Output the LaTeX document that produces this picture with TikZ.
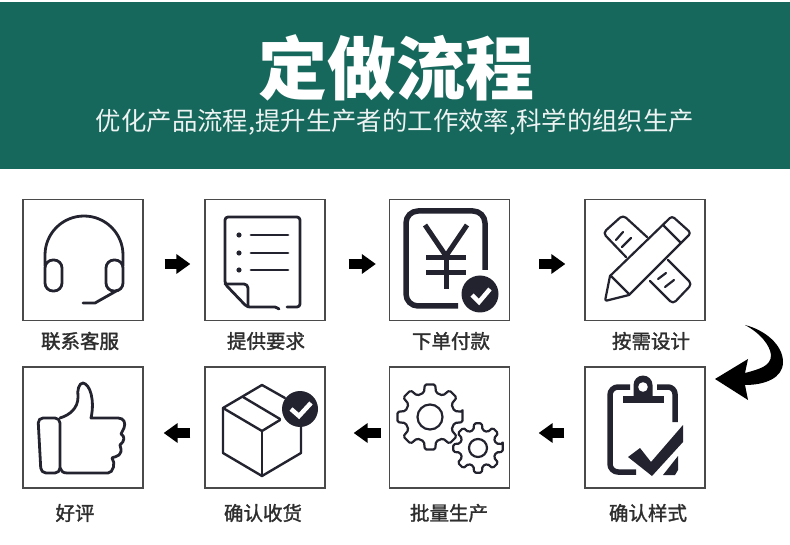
\documentclass[tikz,border=0pt]{standalone}
\usepackage{fontspec}
\setmainfont{Noto Sans CJK SC}
\newfontfamily\labelfont[FakeBold=1.6]{Noto Sans CJK SC}
\usetikzlibrary{arrows.meta,calc}
\definecolor{band}{HTML}{17685C}
\definecolor{ink}{HTML}{23232F}
\definecolor{framec}{HTML}{4A4A4A}
\definecolor{labelc}{HTML}{2E2E2E}
\tikzset{
  framebox/.style={draw=framec,line width=1.3pt,minimum width=120pt,minimum height=121pt,inner sep=0pt},
  steplabel/.style={text=labelc,font=\fontsize{19.5pt}{21pt}\selectfont\labelfont,inner sep=0pt},
  blockarrow/.style={line width=10pt,black,-{Triangle[length=14pt,width=19pt]}},
  icon/.style={draw=ink,line width=2.8pt,line cap=round,line join=round},
  iconthin/.style={draw=ink,line width=2.2pt,line cap=round,line join=round},
  iconthick/.style={draw=ink,line width=5pt,line join=round},
  okdisc/.style={fill=ink,draw=none},
  oktick/.style={draw=white,line width=4.5pt,line join=miter},
}
\newcommand{\gearicon}[5]{% cx cy outer root hole
  \draw[iconthin,rounded corners=1.6pt,shift={(#1,#2)}]
    (-9:#3) \foreach \i in {0,...,7}{
      -- ({\i*45-9}:#3) -- ({\i*45+9}:#3) -- ({\i*45+14}:#4) -- ({\i*45+31}:#4)
    } -- cycle;
  \draw[iconthin,shift={(#1,#2)}] (0,0) circle (#5);
}
\begin{document}
\begin{tikzpicture}[x=1pt,y=-1pt]
\useasboundingbox (0,0) rectangle (790,545);
\fill[band] (0,2) rectangle (790,169);
\node[text=white,font=\fontsize{69pt}{72pt}\selectfont\bfseries,inner sep=0pt] (title) at (396,68) {定做流程};
\node[text=white!92!band,font=\fontsize{25.4pt}{27pt}\selectfont,inner sep=0pt] (subtitle) at (395,122) {优化产品流程,提升生产者的工作效率,科学的组织生产};

% frames
\node[framebox] (b1) at (83,260) {};
\node[framebox] (b2) at (265,260) {};
\node[framebox] (b3) at (449.5,260) {};
\node[framebox] (b4) at (645,260) {};
\node[framebox] (b5) at (645,427.5) {};
\node[framebox] (b6) at (449.5,427.5) {};
\node[framebox] (b7) at (265,427.5) {};
\node[framebox] (b8) at (83,427.5) {};

% labels
\node[steplabel] (l1) at (80,341) {联系客服};
\node[steplabel] (l2) at (266,341) {提供要求};
\node[steplabel] (l3) at (451,341) {下单付款};
\node[steplabel] (l4) at (651,341) {按需设计};
\node[steplabel] (l5) at (648,513) {确认样式};
\node[steplabel] (l6) at (449,513) {批量生产};
\node[steplabel] (l7) at (263,513) {确认收货};
\node[steplabel] (l8) at (75,513) {好评};

% connectors
\draw[blockarrow] ([shift={(21,4)}]b1.east) -- ([shift={(-14,4)}]b2.west);
\draw[blockarrow] ([shift={(23,4)}]b2.east) -- ([shift={(-13,4)}]b3.west);
\draw[blockarrow] ([shift={(29,4)}]b3.east) -- ([shift={(-19,4)}]b4.west);
\draw[blockarrow] ([shift={(-20,5.5)}]b5.west) -- ([shift={(28.5,5.5)}]b6.east);
\draw[blockarrow] ([shift={(-8,5.5)}]b6.west) -- ([shift={(28,5.5)}]b7.east);
\draw[blockarrow] ([shift={(-14,5.5)}]b7.west) -- ([shift={(20,5.5)}]b8.east);

% curved arrow
\fill[black] (745,325) .. controls (760,333) and (770,345) .. (771,355)
  .. controls (771,366) and (760,369) .. (745,373) -- (748,359) -- (715,379) -- (748,400) -- (745,385)
  .. controls (765,385) and (783,378) .. (783,362)
  .. controls (783,345) and (765,330) .. (745,325) -- cycle;

% headset
\draw[icon] (45,266) -- (45,255) arc[start angle=180,end angle=360,radius=39] -- (123,266);
\draw[icon,rounded corners=8pt] (45,260) rectangle (62,291);
\draw[icon,rounded corners=8pt] (106,260) rectangle (123,291);
\draw[icon] (118,290) -- (95,303) -- (83,303);

% document
\draw[icon,rounded corners=3pt] (279,309) .. controls (276,307) and (274,307) .. (272,307) -- (247,307) -- (225,284) -- (225,217) -- (300,217) -- (300,307) -- (287,307);
\draw[icon,rounded corners=4pt] (225,284) -- (248,284) -- (248,307);
\foreach \ly in {235,253,270}{
  \draw[icon] (251,\ly) -- (288,\ly);
  \fill[ink] (239,\ly) circle (2.6);
}

% yen
\draw[iconthick,line width=5.5pt,rounded corners=12pt] (485,270) -- (485,211) -- (406,211) -- (406,306) -- (458,306);
\draw[draw=ink,line width=5pt] (425,225) -- (446,256) -- (467,225);
\draw[draw=ink,line width=5pt] (446,256) -- (446,289);
\draw[draw=ink,line width=5pt] (426,258) -- (466,258) (426,273) -- (466,273);
\fill[okdisc] (480,294) circle (18.5);
\draw[oktick] (472,295) -- (479,302) -- (490,289);

% ruler and pencil
\draw[iconthin,rounded corners=4pt] (647,237) -- (623,215) -- (603,233) -- (626,257);
\draw[iconthin,rounded corners=4pt] (668,260) -- (692,284) -- (673,304) -- (650,281);
\draw[iconthin] (616,240) -- (623,232) (622,247) -- (631,238);
\draw[iconthin] (658,279) -- (666,273) (665,287) -- (674,280);
\draw[iconthin,rounded corners=3pt] (610,276) -- (672,216) -- (691,233) -- (629,295);
\draw[iconthin,rounded corners=2pt] (629,295) -- (605,301) -- (610,276);
\draw[iconthin] (663,225) -- (681,243) (611,276) -- (629,294);

% clipboard
\draw[iconthick,line width=5.5pt,rounded corners=7pt] (675,422) -- (675,387) -- (657,387);
\draw[iconthick,line width=5.5pt,rounded corners=8pt] (630,387) -- (610,387) -- (610,472) -- (636,472);
\fill[ink] (623,396) rectangle (664,403);
\fill[ink] (633.5,397) -- (633.5,385) arc[start angle=180,end angle=360,radius=9.5] -- (652.5,397) -- cycle;
\fill[white] (643,387) circle (4.8);
\fill[ink] (628,457) -- (640,448) -- (651,462) -- (683,425) -- (683,442) -- (652,476) -- cycle;
\fill[ink] (678,456) -- (678,470) -- (675,475) -- (663,475) -- cycle;

% box with tick
\draw[iconthin,line width=2.4pt] (285,398) -- (262,385) -- (223,408) -- (262,431) -- (280,420);
\draw[iconthin,line width=2.4pt] (223,408) -- (223,453) -- (262,476) -- (301,453) -- (301,425);
\draw[iconthin,line width=2.4pt] (262,431) -- (262,476);
\draw[iconthin,line width=2.4pt] (243,397) -- (280,419);
\fill[okdisc] (300,409) circle (18);
\draw[oktick] (291,409) -- (299,416) -- (311,403);

% gears
\gearicon{430}{417}{33}{25}{12.5}
\gearicon{478}{448}{25}{18.5}{9}

% thumb
\draw[icon,rounded corners=5pt] (60,418) -- (38,418) -- (41,473) -- (60,473) -- cycle;
\draw[icon] (60,418) .. controls (70,415) and (78,408) .. (78,397)
  .. controls (77,390) and (79,383) .. (83,383)
  .. controls (90,384) and (95,400) .. (91,418)
  -- (118,418) .. controls (124,418) and (126,423) .. (124,428)
  .. controls (123,431) and (121,433) .. (121,434)
  .. controls (125,436) and (125,441) .. (120,445)
  .. controls (120,447) and (123,451) .. (119,455)
  .. controls (117,457) and (113,457) .. (112,458)
  .. controls (116,463) and (113,473) .. (108,473)
  -- (67,473) .. controls (63,473) and (61,471) .. (60,468);
\end{tikzpicture}
\end{document}
